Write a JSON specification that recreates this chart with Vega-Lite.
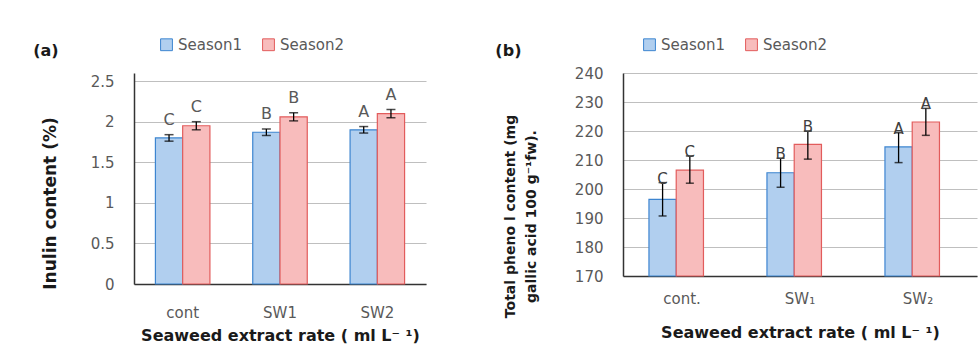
{
  "$schema": "https://vega.github.io/schema/vega-lite/v6.json",
  "background": "white",
  "padding": {"left": 33, "top": 37, "right": 2, "bottom": 5},
  "spacing": 69,
  "resolve": {"scale": {"fill": "independent", "stroke": "independent", "y": "independent"}, "legend": {"fill": "independent", "stroke": "independent"}},
  "config": {
    "view": {"stroke": null},
    "font": "DejaVu Sans",
    "axis": {
      "labelFont": "DejaVu Sans",
      "labelFontSize": 15,
      "labelColor": "#595959",
      "titleFont": "DejaVu Sans",
      "titleFontWeight": "bold",
      "titleColor": "#1a1a1a",
      "ticks": false,
      "domainColor": "#333333",
      "domainWidth": 1.5,
      "gridColor": "#bfbfbf",
      "gridWidth": 1
    },
    "legend": {
      "labelFont": "DejaVu Sans",
      "labelFontSize": 15,
      "labelColor": "#595959",
      "symbolType": "square",
      "symbolSize": 140,
      "symbolStrokeWidth": 1,
      "columnPadding": 18,
      "labelOffset": 4
    }
  },
  "hconcat": [
    {
      "width": 292,
      "height": 211,
      "title": {"text": "(a)", "anchor": "start", "frame": "bounds", "fontSize": 16, "fontWeight": "bold", "font": "DejaVu Sans", "color": "#1a1a1a", "offset": -22, "dx": -8},
      "data": {"values": [
        {"treatment": "cont", "season": "Season1", "value": 1.80, "lo": 1.76, "hi": 1.84, "letter": "C"},
        {"treatment": "cont", "season": "Season2", "value": 1.95, "lo": 1.90, "hi": 2.00, "letter": "C"},
        {"treatment": "SW1", "season": "Season1", "value": 1.87, "lo": 1.83, "hi": 1.91, "letter": "B"},
        {"treatment": "SW1", "season": "Season2", "value": 2.06, "lo": 2.01, "hi": 2.11, "letter": "B"},
        {"treatment": "SW2", "season": "Season1", "value": 1.90, "lo": 1.86, "hi": 1.94, "letter": "A"},
        {"treatment": "SW2", "season": "Season2", "value": 2.10, "lo": 2.05, "hi": 2.15, "letter": "A"}
      ]},
      "encoding": {
        "x": {"field": "treatment", "type": "nominal", "sort": ["cont", "SW1", "SW2"],
              "scale": {"paddingInner": 0.44, "paddingOuter": 0.22},
              "axis": {"labelAngle": 0, "labelPadding": 21, "title": "Seaweed extract  rate ( ml L⁻ ¹)", "titleFontSize": 16, "titlePadding": 7}},
        "xOffset": {"field": "season", "type": "nominal", "scale": {"paddingInner": 0, "paddingOuter": 0}}
      },
      "layer": [
        {
          "mark": {"type": "bar", "strokeWidth": 1.2},
          "encoding": {
            "y": {"field": "value", "type": "quantitative", "title": "Inulin content (%)", "scale": {"domain": [0, 2.5]},
                  "axis": {"values": [0, 0.5, 1, 1.5, 2, 2.5], "format": "~g", "labelPadding": 20, "titleFontSize": 17, "titleY": 130, "titlePadding": 31}},
            "fill": {"field": "season", "type": "nominal", "scale": {"domain": ["Season1", "Season2"], "range": ["#b1cfef", "#f8bcbc"]},
                     "legend": {"orient": "none", "legendX": 25, "legendY": -36, "direction": "horizontal", "columns": 2, "title": null}},
            "stroke": {"field": "season", "type": "nominal", "scale": {"domain": ["Season1", "Season2"], "range": ["#3d85d0", "#e25c5c"]},
                       "legend": {"orient": "none", "legendX": 25, "legendY": -36, "direction": "horizontal", "columns": 2, "title": null}}
          }
        },
        {
          "mark": {"type": "rule", "color": "#000000", "strokeWidth": 1.3},
          "encoding": {"y": {"field": "lo", "type": "quantitative", "title": "Inulin content (%)", "axis": {"values": [0, 0.5, 1, 1.5, 2, 2.5], "format": "~g", "labelPadding": 20, "titleFontSize": 17, "titleY": 130, "titlePadding": 31}}, "y2": {"field": "hi"}}
        },
        {
          "mark": {"type": "tick", "color": "#000000", "size": 9, "thickness": 1.5},
          "encoding": {"y": {"field": "lo", "type": "quantitative", "title": "Inulin content (%)", "axis": {"values": [0, 0.5, 1, 1.5, 2, 2.5], "format": "~g", "labelPadding": 20, "titleFontSize": 17, "titleY": 130, "titlePadding": 31}}}
        },
        {
          "mark": {"type": "tick", "color": "#000000", "size": 9, "thickness": 1.5},
          "encoding": {"y": {"field": "hi", "type": "quantitative", "title": "Inulin content (%)", "axis": {"values": [0, 0.5, 1, 1.5, 2, 2.5], "format": "~g", "labelPadding": 20, "titleFontSize": 17, "titleY": 130, "titlePadding": 31}}}
        },
        {
          "mark": {"type": "text", "font": "DejaVu Sans", "fontSize": 16, "color": "#595959", "baseline": "middle", "dy": -15},
          "encoding": {"y": {"field": "hi", "type": "quantitative", "title": "Inulin content (%)", "axis": {"values": [0, 0.5, 1, 1.5, 2, 2.5], "format": "~g", "labelPadding": 20, "titleFontSize": 17, "titleY": 130, "titlePadding": 31}}, "text": {"field": "letter"}}
        }
      ]
    },
    {
      "width": 354,
      "height": 203,
      "title": {"text": "(b)", "anchor": "start", "frame": "bounds", "fontSize": 16, "fontWeight": "bold", "font": "DejaVu Sans", "color": "#1a1a1a", "offset": -22, "dx": -8},
      "data": {"values": [
        {"treatment": "cont.", "season": "Season1", "value": 196.4, "lo": 190.7, "hi": 202.2, "letter": "C"},
        {"treatment": "cont.", "season": "Season2", "value": 206.5, "lo": 202.0, "hi": 211.4, "letter": "C"},
        {"treatment": "SW₁", "season": "Season1", "value": 205.6, "lo": 200.6, "hi": 210.6, "letter": "B"},
        {"treatment": "SW₁", "season": "Season2", "value": 215.4, "lo": 210.3, "hi": 220.0, "letter": "B"},
        {"treatment": "SW₂", "season": "Season1", "value": 214.5, "lo": 209.1, "hi": 219.4, "letter": "A"},
        {"treatment": "SW₂", "season": "Season2", "value": 223.1, "lo": 218.5, "hi": 227.8, "letter": "A"}
      ]},
      "encoding": {
        "x": {"field": "treatment", "type": "nominal", "sort": ["cont.", "SW₁", "SW₂"],
              "scale": {"paddingInner": 0.44, "paddingOuter": 0.22},
              "axis": {"labelAngle": 0, "labelPadding": 15, "title": "Seaweed extract rate ( ml L⁻ ¹)", "titleFontSize": 16, "titlePadding": 18}},
        "xOffset": {"field": "season", "type": "nominal", "scale": {"paddingInner": 0, "paddingOuter": 0}}
      },
      "layer": [
        {
          "mark": {"type": "bar", "strokeWidth": 1.2},
          "encoding": {
            "y": {"field": "value", "type": "quantitative", "title": ["Total pheno l content (mg", "gallic acid 100 g⁻¹fw)."], "scale": {"domain": [170, 240], "zero": false},
                  "axis": {"values": [170, 180, 190, 200, 210, 220, 230, 240], "labelPadding": 20, "titleFontSize": 14, "titleLineHeight": 21, "titleY": 143, "titlePadding": 36}},
            "y2": {"datum": 170},
            "fill": {"field": "season", "type": "nominal", "scale": {"domain": ["Season1", "Season2"], "range": ["#b1cfef", "#f8bcbc"]},
                     "legend": {"orient": "none", "legendX": 19, "legendY": -36, "direction": "horizontal", "columns": 2, "title": null}},
            "stroke": {"field": "season", "type": "nominal", "scale": {"domain": ["Season1", "Season2"], "range": ["#3d85d0", "#e25c5c"]},
                       "legend": {"orient": "none", "legendX": 19, "legendY": -36, "direction": "horizontal", "columns": 2, "title": null}}
          }
        },
        {
          "mark": {"type": "rule", "color": "#000000", "strokeWidth": 1.3},
          "encoding": {"y": {"field": "lo", "type": "quantitative", "title": ["Total pheno l content (mg", "gallic acid 100 g⁻¹fw)."], "axis": {"values": [170, 180, 190, 200, 210, 220, 230, 240], "labelPadding": 20, "titleFontSize": 14, "titleLineHeight": 21, "titleY": 143, "titlePadding": 36}}, "y2": {"field": "hi"}}
        },
        {
          "mark": {"type": "tick", "color": "#000000", "size": 8, "thickness": 1.5},
          "encoding": {"y": {"field": "lo", "type": "quantitative", "title": ["Total pheno l content (mg", "gallic acid 100 g⁻¹fw)."], "axis": {"values": [170, 180, 190, 200, 210, 220, 230, 240], "labelPadding": 20, "titleFontSize": 14, "titleLineHeight": 21, "titleY": 143, "titlePadding": 36}}}
        },
        {
          "mark": {"type": "tick", "color": "#000000", "size": 8, "thickness": 1.5},
          "encoding": {"y": {"field": "hi", "type": "quantitative", "title": ["Total pheno l content (mg", "gallic acid 100 g⁻¹fw)."], "axis": {"values": [170, 180, 190, 200, 210, 220, 230, 240], "labelPadding": 20, "titleFontSize": 14, "titleLineHeight": 21, "titleY": 143, "titlePadding": 36}}}
        },
        {
          "mark": {"type": "text", "font": "DejaVu Sans", "fontSize": 15, "color": "#404040", "baseline": "middle", "dy": -4},
          "encoding": {"y": {"field": "hi", "type": "quantitative", "title": ["Total pheno l content (mg", "gallic acid 100 g⁻¹fw)."], "axis": {"values": [170, 180, 190, 200, 210, 220, 230, 240], "labelPadding": 20, "titleFontSize": 14, "titleLineHeight": 21, "titleY": 143, "titlePadding": 36}}, "text": {"field": "letter"}}
        }
      ]
    }
  ]
}
